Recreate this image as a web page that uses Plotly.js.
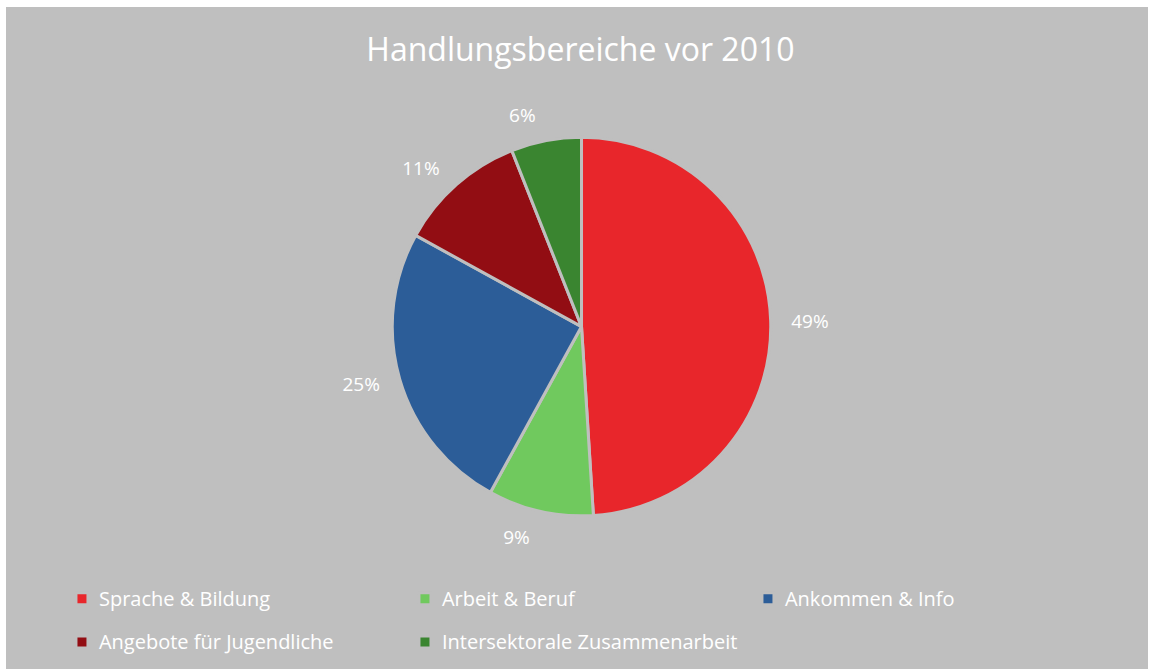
<!DOCTYPE html>
<html>
<head>
<meta charset="utf-8">
<script src="https://cdn.plot.ly/plotly-3.0.1.min.js"></script>
<style>
html, body { margin: 0; padding: 0; background: #ffffff; width: 1149px; height: 669px; overflow: hidden; }
#chart { position: absolute; left: 6px; top: 7px; width: 1142px; height: 662px; }
</style>
</head>
<body>
<div id="chart"></div>
<script>
const categories = ["Sprache & Bildung", "Arbeit & Beruf", "Ankommen & Info", "Angebote für Jugendliche", "Intersektorale Zusammenarbeit"];
const shares = [49, 9, 25, 11, 6];
const colors = ["#E8262B", "#70C95E", "#2C5D98", "#920D13", "#3A8530"];
const chartTitle = "Handlungsbereiche vor 2010";

const FONT = "'Open Sans', sans-serif";
const LEGEND_TEXT_SIZE = 20;
const LABEL_PUSH = 14; // extra distance of outside labels from the pie edge

const trace = {
  type: "pie",
  labels: categories,
  values: shares,
  sort: false,
  direction: "clockwise",
  rotation: 0,
  marker: { colors: colors, line: { color: "#BFBFBF", width: 3 } },
  textinfo: "percent",
  texttemplate: "%{percent:.0%}",
  textposition: "outside",
  outsidetextfont: { color: "#FFFFFF", size: 19, family: FONT },
  hoverinfo: "label+percent",
  domain: { x: [0.3380, 0.6699], y: [0.2302, 0.8028] },
  automargin: false
};

const layout = {
  width: 1142,
  height: 662,
  paper_bgcolor: "#BFBFBF",
  plot_bgcolor: "#BFBFBF",
  margin: { l: 0, r: 0, t: 0, b: 0 },
  title: {
    text: chartTitle,
    font: { family: FONT, size: 32, color: "#FFFFFF" },
    x: 0.503, xanchor: "center",
    y: 0.936, yanchor: "middle"
  },
  showlegend: true,
  legend: {
    orientation: "h",
    x: 0.049, xanchor: "left",
    y: 0.145, yanchor: "top",
    entrywidth: 298,
    entrywidthmode: "pixels",
    font: { family: FONT, size: 31, color: "#FFFFFF" },
    bgcolor: "rgba(0,0,0,0)",
    traceorder: "normal"
  }
};

Plotly.newPlot("chart", [trace], layout, { displayModeBar: false, staticPlot: true }).then(function (gd) {
  // legend rows are spaced by the legend font size; draw the label text itself smaller
  gd.querySelectorAll(".legend .legendtext").forEach(function (t) {
    t.style.fontSize = LEGEND_TEXT_SIZE + "px";
    const y = parseFloat(t.getAttribute("y") || "0");
    const x = parseFloat(t.getAttribute("x") || "0");
    t.setAttribute("y", y - 5);
    t.setAttribute("x", x - 3);
  });
  // push outside percentage labels a little further from the pie edge
  const cd0 = gd.calcdata[0][0];
  const cx = cd0.cx, cy = cd0.cy;
  gd.querySelectorAll(".slice text.slicetext").forEach(function (t) {
    const tr = t.getAttribute("transform") || "";
    const m = tr.match(/translate\(\s*([-\d.e]+)[,\s]+([-\d.e]+)\s*\)/);
    if (!m) return;
    const x = parseFloat(m[1]), y = parseFloat(m[2]);
    const dx = x - cx, dy = y - cy;
    const len = Math.sqrt(dx * dx + dy * dy) || 1;
    const nx = x + dx / len * LABEL_PUSH, ny = y + dy / len * LABEL_PUSH;
    t.setAttribute("transform", tr.replace(m[0], "translate(" + nx + "," + ny + ")"));
  });
});
</script>
</body>
</html>
